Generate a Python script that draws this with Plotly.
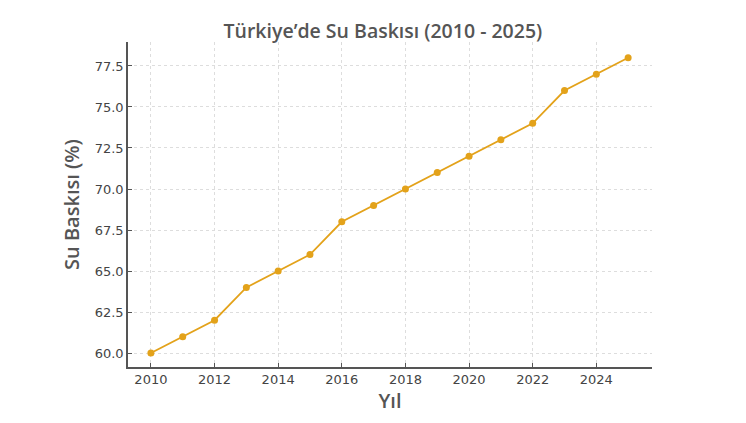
import plotly.graph_objects as go

years = [2010, 2011, 2012, 2013, 2014, 2015, 2016, 2017, 2018, 2019, 2020, 2021, 2022, 2023, 2024, 2025]
stress = [60, 61, 62, 64, 65, 66, 68, 69, 70, 71, 72, 73, 74, 76, 77, 78]
x_ticks = [2010, 2012, 2014, 2016, 2018, 2020, 2022, 2024]
y_ticks = [60.0, 62.5, 65.0, 67.5, 70.0, 72.5, 75.0, 77.5]

title = "Türkiye’de Su Baskısı (2010 - 2025)"
x_title = "Yıl"
y_title = "Su Baskısı (%)"

fig = go.Figure()
fig.add_trace(go.Scatter(
    x=years, y=stress, mode="lines+markers",
    line=dict(color="#E3A21A", width=1.8),
    marker=dict(color="#E3A21A", size=7),
    showlegend=False,
))

axis_common = dict(
    showgrid=True, gridcolor="#DDDDDD", griddash="dot", gridwidth=1,
    showline=True, linecolor="#555555", linewidth=1.5,
    ticks="inside", ticklen=4, tickcolor="#555555",
    tickfont=dict(family="DejaVu Sans", size=13, color="#444444"),
    zeroline=False, mirror=False,
)

fig.update_layout(
    width=738, height=415,
    paper_bgcolor="white", plot_bgcolor="white",
    margin=dict(l=120, r=94, t=34, b=56),
    title=dict(text=title, x=0.508, xanchor="center", y=0.945, yanchor="middle",
               font=dict(family="Open Sans", size=19.5, color="#555555", weight=600)),
    xaxis=dict(range=[2009.28, 2025.75], tickvals=x_ticks,
               ticktext=[str(v) for v in x_ticks],
               title=dict(text=x_title, standoff=4,
                          font=dict(family="Open Sans", size=20, color="#555555", weight=600)),
               **axis_common),
    yaxis=dict(range=[59.15, 78.96], tickvals=y_ticks,
               ticktext=[f"{v:.1f}" for v in y_ticks],
               title=dict(text=y_title, standoff=10,
                          font=dict(family="Open Sans", size=20, color="#555555", weight=600)),
               **axis_common),
)

fig.write_html("out.html")
